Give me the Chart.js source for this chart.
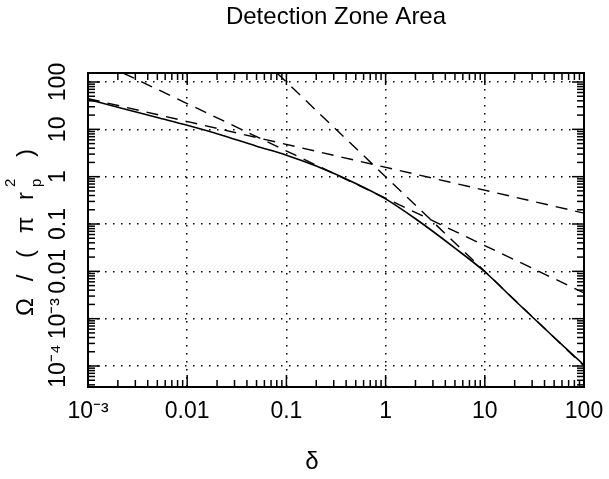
<!DOCTYPE html>
<html>
<head>
<meta charset="utf-8">
<title>Detection Zone Area</title>
<script src="https://cdn.jsdelivr.net/npm/chart.js@4.4.0/dist/chart.umd.min.js"></script>
<style>
    html, body { margin: 0; padding: 0; background: #fff; }
    #wrap { width: 609px; height: 479px; }
</style>
</head>
<body>
<div id="wrap"><canvas id="zoneChart"></canvas></div>
<script>
// axis ranges
const X_MIN = 1e-3, X_MAX = 100;
const Y_MIN = 3.6e-5, Y_MAX = 155;

// major ticks and their labels
const X_TICKS = [1e-3, 1e-2, 1e-1, 1, 10, 100];
const X_TICK_LABELS = ['10⁻³', '0.01', '0.1', '1', '10', '100'];
const Y_TICKS = [1e-4, 1e-3, 1e-2, 1e-1, 1, 10, 100];
const Y_TICK_LABELS = ['10⁻⁴', '10⁻³', '0.01', '0.1', '1', '10', '100'];

// full curve
const DELTA = [0.001, 0.002, 0.005, 0.01, 0.02, 0.05, 0.1, 0.2, 0.5, 1, 2, 5, 10, 20, 50, 100];
const AREA = [43, 29.4, 17.8, 12.2, 8.1, 4.4, 2.85, 1.68, 0.72, 0.34, 0.129, 0.031, 0.0098, 0.00245, 4.0e-4, 1.05e-4];

// asymptotes (end points of the dashed lines)
const SHALLOW_X = [0.001, 100];
const SHALLOW_Y = [44.7, 0.17];
const MID_X = [0.00226, 100];
const MID_Y = [155, 0.0035];
const STEEP_X = [0.0803, 100];
const STEEP_Y = [155, 1.0e-4];

const FONT = 'Liberation Sans';

function pairs(xs, ys) {
    return xs.map((x, i) => ({ x: x, y: ys[i] }));
}

function findLabel(ticks, labels, value) {
    for (let i = 0; i < ticks.length; i++) {
        if (Math.abs(Math.log10(value) - Math.log10(ticks[i])) < 1e-6) return labels[i];
    }
    return '';
}

// frame, inward ticks and axis titles
const framePlugin = {
    id: 'frame',
    afterDraw(chart) {
        const c = chart.ctx;
        const area = chart.chartArea;
        const xs = chart.scales.x;
        const ys = chart.scales.y;

        function seg(x1, y1, x2, y2) {
            c.beginPath();
            c.moveTo(x1, y1);
            c.lineTo(x2, y2);
            c.stroke();
        }

        c.save();
        c.strokeStyle = '#000';
        c.lineWidth = 1.5;
        for (let e = -5; e <= 3; e++) {
            for (let k = 1; k <= 9; k++) {
                const v = k * Math.pow(10, e);
                const len = k === 1 ? 12 : 7;
                if (v >= X_MIN && v <= X_MAX) {
                    const px = xs.getPixelForValue(v);
                    seg(px, area.bottom, px, area.bottom - len);
                    seg(px, area.top, px, area.top + len);
                }
                if (v >= Y_MIN && v <= Y_MAX) {
                    const py = ys.getPixelForValue(v);
                    seg(area.left, py, area.left + len, py);
                    seg(area.right, py, area.right - len, py);
                }
            }
        }
        c.lineWidth = 2;
        c.strokeRect(area.left, area.top, area.right - area.left, area.bottom - area.top);

        // x title
        c.fillStyle = '#000';
        c.font = '24px "' + FONT + '"';
        c.textAlign = 'center';
        c.textBaseline = 'middle';
        c.fillText('δ', (area.left + area.right) / 2 - 24, 462);

        // y title, rotated, with sub/superscript
        c.translate(33, (area.top + area.bottom) / 2);
        c.rotate(-Math.PI / 2);
        c.textAlign = 'left';
        c.textBaseline = 'alphabetic';
        c.letterSpacing = '5px';
        const big = '24px "' + FONT + '"';
        const small = '15px "' + FONT + '"';
        c.font = big;
        const w1 = c.measureText('Ω / ( π r').width;
        c.font = small;
        const w2 = c.measureText('p').width + 5;
        c.font = big;
        const w3 = c.measureText(' )').width;
        let x0 = -(w1 + w2 + w3) / 2;
        c.fillText('Ω / ( π r', x0, 0);
        x0 += w1;
        c.font = small;
        c.fillText('p', x0, 8);
        c.fillText('2', x0, -18);
        x0 += w2;
        c.font = big;
        c.fillText(' )', x0, 0);
        c.restore();
    }
};

const gridStyle = { color: '#000', lineWidth: 1.5, drawTicks: false };
const borderStyle = { display: true, color: '#000', width: 2, dash: [1.5, 6.5] };

new Chart(document.getElementById('zoneChart').getContext('2d'), {
    type: 'line',
    data: {
        datasets: [
            {
                label: 'Detection zone area',
                data: pairs(DELTA, AREA),
                borderColor: '#000',
                borderWidth: 1.6,
                pointRadius: 0,
                fill: false,
                cubicInterpolationMode: 'monotone'
            },
            {
                label: 'small-δ limit',
                data: pairs(SHALLOW_X, SHALLOW_Y),
                borderColor: '#000',
                borderWidth: 1.4,
                borderDash: [12, 8],
                pointRadius: 0,
                fill: false
            },
            {
                label: 'intermediate limit',
                data: pairs(MID_X, MID_Y),
                borderColor: '#000',
                borderWidth: 1.4,
                borderDash: [12, 8],
                pointRadius: 0,
                fill: false
            },
            {
                label: 'large-δ limit',
                data: pairs(STEEP_X, STEEP_Y),
                borderColor: '#000',
                borderWidth: 1.4,
                borderDash: [12, 8],
                pointRadius: 0,
                fill: false
            }
        ]
    },
    options: {
        responsive: true,
        maintainAspectRatio: false,
        animation: false,
        events: [],
        layout: { padding: { left: 0, right: 25, top: 0, bottom: 0 } },
        plugins: {
            legend: { display: false },
            tooltip: { enabled: false },
            title: {
                display: true,
                text: 'Detection Zone Area',
                fullSize: false,
                color: '#000',
                font: { family: FONT, size: 24, weight: 'normal' },
                padding: { top: 3, bottom: 41.2 }
            }
        },
        scales: {
            x: {
                type: 'logarithmic',
                min: X_MIN,
                max: X_MAX,
                afterBuildTicks: (scale) => { scale.ticks = X_TICKS.map(v => ({ value: v })); },
                afterFit: (scale) => {
                    scale.height = 92;
                    scale.paddingLeft = 0;
                    scale.paddingRight = 0;
                },
                grid: gridStyle,
                border: borderStyle,
                ticks: {
                    autoSkip: false,
                    minRotation: 0,
                    maxRotation: 0,
                    padding: 11,
                    color: '#000',
                    font: { family: FONT, size: 23 },
                    callback: (value) => findLabel(X_TICKS, X_TICK_LABELS, value)
                }
            },
            y: {
                type: 'logarithmic',
                min: Y_MIN,
                max: Y_MAX,
                afterBuildTicks: (scale) => { scale.ticks = Y_TICKS.map(v => ({ value: v })); },
                afterFit: (scale) => {
                    scale.width = 88;
                    scale.paddingTop = 0;
                    scale.paddingBottom = 0;
                },
                grid: gridStyle,
                border: borderStyle,
                ticks: {
                    autoSkip: false,
                    minRotation: 90,
                    maxRotation: 90,
                    crossAlign: 'center',
                    padding: 7,
                    color: '#000',
                    font: { family: FONT, size: 23 },
                    callback: (value) => findLabel(Y_TICKS, Y_TICK_LABELS, value)
                }
            }
        }
    },
    plugins: [framePlugin]
});
</script>
</body>
</html>
